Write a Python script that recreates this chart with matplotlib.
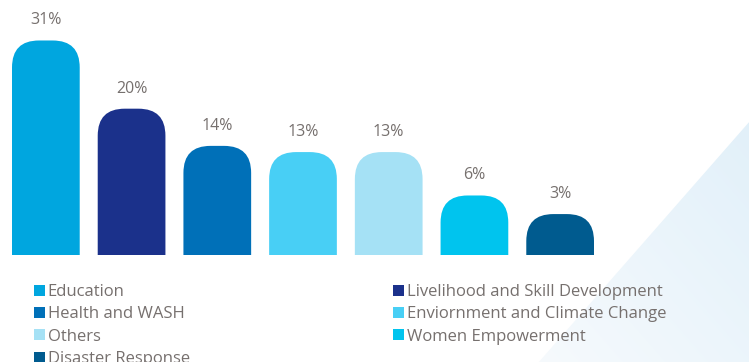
import numpy as np
import matplotlib.pyplot as plt
from matplotlib.patches import FancyBboxPatch, Polygon, Patch

# data
categories = ["Education", "Livelihood and Skill Development", "Health and WASH",
              "Enviornment and Climate Change", "Others", "Women Empowerment",
              "Disaster Response"]
shares = [31, 20, 14, 13, 13, 6, 3]
colors = ["#00a6df", "#1b318b", "#0070b8", "#48cff5", "#a5e1f5", "#00c4ee", "#005b8f"]
legend_col1 = [0, 2, 4, 6]
legend_col2 = [1, 3, 5]

plt.rcParams['font.family'] = ['Open Sans', 'DejaVu Sans']
txt_color = "#76706e"

W, H = 749, 362
fig = plt.figure(figsize=(W / 100, H / 100), dpi=100)

# light blue triangle in the background
bg = fig.add_axes([0, 0, 1, 1], zorder=0)
bg.set_xlim(0, W)
bg.set_ylim(H, 0)
bg.axis('off')
yy, xx = np.mgrid[0:H, 0:W]
t = np.clip((xx - 540) / 209.0 * 0.5 + (362 - yy) / 240.0 * 0.5, 0, 1)
c0 = np.array([0.965, 0.98, 0.992])
c1 = np.array([0.885, 0.942, 0.978])
img = c0[None, None, :] * (1 - t[..., None]) + c1[None, None, :] * t[..., None]
im = bg.imshow(img, extent=[0, W, H, 0], aspect='auto')
tri = Polygon([(538, 363), (750, 121), (750, 363)], transform=bg.transData)
im.set_clip_path(tri)

# bars (baseline sits a bit below zero so small bars stay visible)
off = 3.6
scale = 6.2  # pixels per percent point
ax = fig.add_axes([3 / W, 107 / H, 600 / W, 255 / H], zorder=1)
ax.set_xlim(-0.5, 6.5)
ax.set_ylim(-off, -off + 255 / scale)
ax.axis('off')
ax.patch.set_alpha(0)

x = np.arange(len(shares))
bars = ax.bar(x, np.array(shares) + off, bottom=-off, width=0.79, color=colors)

px_x = 600 / 7.0
r_px = 27
rx = r_px / px_x
ry = r_px / scale
for b in bars:
    b.set_visible(False)
    x0, w, top = b.get_x(), b.get_width(), b.get_y() + b.get_height()
    p = FancyBboxPatch((x0, -off - 10), w, top + off + 10,
                       boxstyle=f"round,pad=0,rounding_size={rx}",
                       mutation_aspect=ry / rx,
                       facecolor=b.get_facecolor(), edgecolor='none')
    ax.add_patch(p)

for i, v in enumerate(shares):
    ax.text(i, v + 20 / scale, f"{v}%", ha='center', va='center', fontsize=11.5,
            color=txt_color)

# legend (two columns)
def make_legend(idx, xpx):
    handles = [Patch(facecolor=colors[i], edgecolor='none') for i in idx]
    labels = [categories[i] for i in idx]
    lg = fig.legend(handles, labels, loc='upper left',
                    bbox_to_anchor=(xpx / W, 1 - 284 / H), frameon=False,
                    fontsize=12, handlelength=0.65, handleheight=0.65,
                    handletextpad=0.17, labelspacing=0.38, borderaxespad=0,
                    borderpad=0)
    for tx in lg.get_texts():
        tx.set_color(txt_color)
    return lg

make_legend(legend_col1, 34)
make_legend(legend_col2, 393)

fig.savefig("out.png", dpi=100)
